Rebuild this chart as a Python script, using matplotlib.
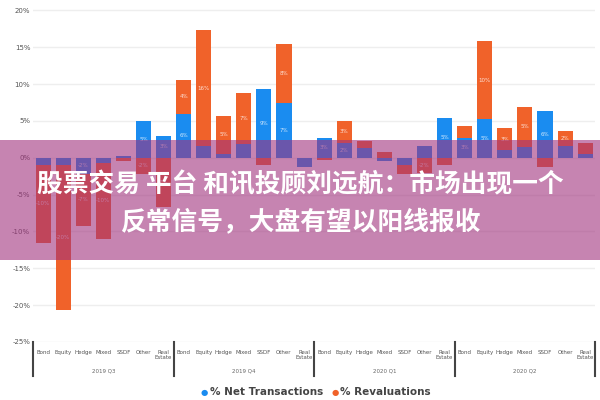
import numpy as np
import matplotlib
matplotlib.use("Agg")
import matplotlib.pyplot as plt
from matplotlib.patches import Rectangle
import matplotlib.transforms as mtransforms

# --- data ---
categories = ["Bond", "Equity", "Hedge", "Mixed", "SSDF", "Other", "Real\nEstate"]
quarters = ["2019 Q3", "2019 Q4", "2020 Q1", "2020 Q2"]

net_q1 = [-1.0, -1.0, -2.2, -0.7, 0.3, 5.0, 3.0]
rev_q1 = [-10.5, -19.7, -7.0, -10.3, -0.4, -2.2, -6.7]
net_q2 = [6.0, 1.6, 0.5, 1.9, 9.3, 7.4, -1.2]
rev_q2 = [4.5, 15.7, 5.2, 6.9, -1.0, 8.0, 0.0]
net_q3 = [2.7, 2.0, 1.3, -0.5, -1.0, 1.6, 5.4]
rev_q3 = [-0.3, 3.0, 1.0, 0.8, -1.2, -2.0, -1.0]
net_q4 = [2.7, 5.3, 1.0, 1.5, 6.4, 1.6, 0.5]
rev_q4 = [1.6, 10.5, 3.0, 5.4, -1.3, 2.0, 1.5]

yticks = [-25, -20, -15, -10, -5, 0, 5, 10, 15, 20]

title_lines = ["股票交易 平台 和讯投顾刘远航：市场出现一个", "反常信号，大盘有望以阳线报收"]

BLUE = "#1a8cf0"
ORANGE = "#f0622a"

net = np.array(net_q1 + net_q2 + net_q3 + net_q4)
rev = np.array(rev_q1 + rev_q2 + rev_q3 + rev_q4)
n = len(net)
x = np.arange(n)

fig = plt.figure(figsize=(6, 4), dpi=100)
ax = fig.add_axes([0.055, 0.145, 0.937, 0.8475])

# stacked bars: positives go up, negatives go down
net_base = np.zeros(n)
rev_base = np.where(np.sign(rev) == np.sign(net), net, 0.0)
ax.bar(x, net, width=0.75, bottom=net_base, color=BLUE, zorder=3)
ax.bar(x, rev, width=0.75, bottom=rev_base, color=ORANGE, zorder=3)

for xi, b, v in list(zip(x, net_base, net)) + list(zip(x, rev_base, rev)):
    if abs(v) >= 2:
        ax.text(xi, b + v / 2, f"{v:.0f}%", ha="center", va="center",
                fontsize=4, color="white", alpha=0.8, zorder=4)

ax.set_xlim(-0.5, n - 0.5)
ax.set_ylim(-25, 21)
ax.set_yticks(yticks)
ax.set_yticklabels([f"{t}%" for t in yticks], fontsize=5, color="#555555")
ax.grid(axis="y", color="#eeeeee", linewidth=1.0, zorder=0)
for s in ax.spines.values():
    s.set_visible(False)
ax.tick_params(axis="both", length=0, pad=2)
ax.set_xticks(x)
ax.set_xticklabels(categories * 4, fontsize=4, color="#555555", linespacing=1.0, va="top")
ax.tick_params(axis="x", pad=6)

# group separators and quarter labels
trans = mtransforms.blended_transform_factory(ax.transData, ax.transAxes)
for g in range(5):
    xs = g * 7 - 0.5
    ax.plot([xs, xs], [0, -0.1], transform=trans, color="#444444",
            linewidth=1.5, clip_on=False)
for g, q in enumerate(quarters):
    ax.text(g * 7 + 3, -0.085, q, transform=trans, ha="center", va="center",
            fontsize=4, color="#666666")

# legend
leg_y = 0.02
fig.text(0.335, leg_y, "●", color=BLUE, fontsize=6, ha="left", va="center")
fig.text(0.35, leg_y, "% Net Transactions", color="#444444", fontsize=7.5,
         fontweight="bold", ha="left", va="center")
fig.text(0.552, leg_y, "●", color=ORANGE, fontsize=6, ha="left", va="center")
fig.text(0.567, leg_y, "% Revaluations", color="#444444", fontsize=7.5,
         fontweight="bold", ha="left", va="center")

# banner overlay
fig.patches.append(Rectangle((0, 1 - 260 / 400), 1, 120 / 400, transform=fig.transFigure,
                             facecolor="#a0327d", alpha=0.6, edgecolor="none", zorder=5))
fig.text(0.5, 1 - 185 / 400, title_lines[0], ha="center", va="center", fontsize=18.5,
         color="white", fontweight="bold", family=["Noto Sans CJK SC", "DejaVu Sans"], zorder=6)
fig.text(0.5, 1 - 222 / 400, title_lines[1], ha="center", va="center", fontsize=18.5,
         color="white", fontweight="bold", family=["Noto Sans CJK SC", "DejaVu Sans"], zorder=6)

fig.savefig("out.png", dpi=100)
plt.close(fig)
